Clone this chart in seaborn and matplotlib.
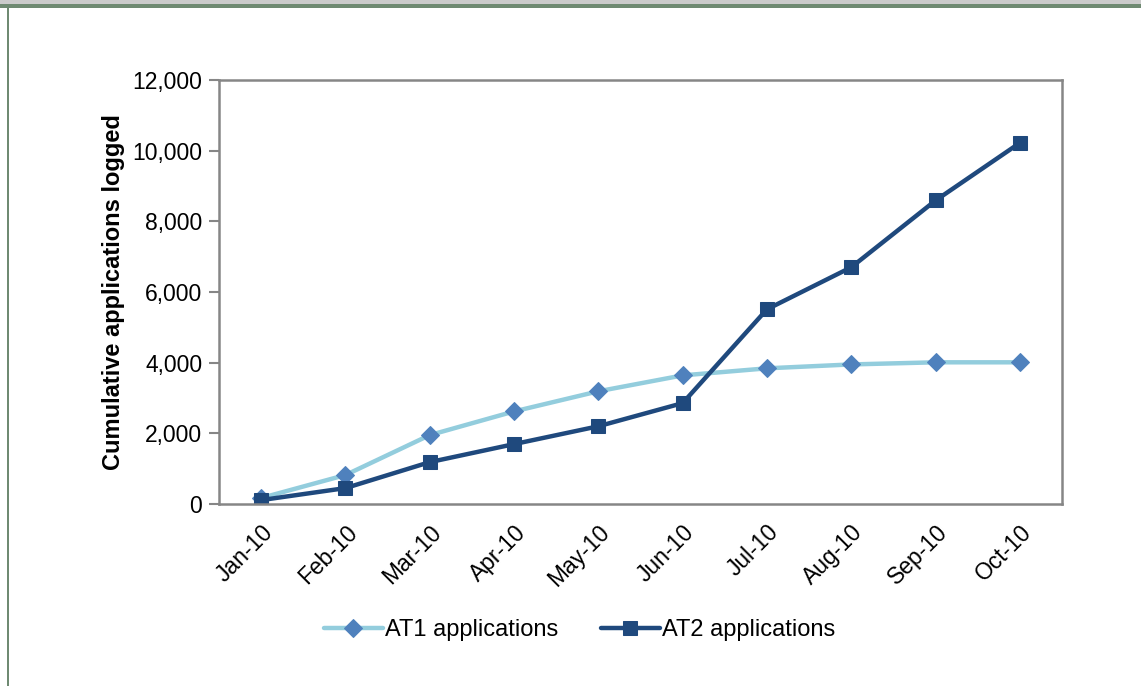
import pandas as pd
import matplotlib
matplotlib.use("Agg")
import matplotlib.pyplot as plt
import seaborn as sns
from matplotlib.patches import Rectangle
from matplotlib.ticker import FuncFormatter

# ---------------------------------------------------------------------------
# Data
# ---------------------------------------------------------------------------
months = ["Jan-10", "Feb-10", "Mar-10", "Apr-10", "May-10",
          "Jun-10", "Jul-10", "Aug-10", "Sep-10", "Oct-10"]
at1_values = [170, 820, 1950, 2620, 3190, 3640, 3840, 3950, 4010, 4010]
at2_values = [110, 450, 1185, 1695, 2200, 2855, 5510, 6700, 8590, 10220]
series_labels = ["AT1 applications", "AT2 applications"]

df = pd.DataFrame({
    "Month": months * 2,
    "Value": at1_values + at2_values,
    "Series": [series_labels[0]] * len(months) + [series_labels[1]] * len(months),
})

sns.set_theme(style="white")
plt.rcParams["font.family"] = ["Liberation Sans", "DejaVu Sans"]
plt.rcParams["text.color"] = "black"
plt.rcParams["xtick.color"] = "black"
plt.rcParams["ytick.color"] = "black"
plt.rcParams["axes.labelcolor"] = "black"

fig = plt.figure(figsize=(11.41, 6.86), dpi=100)
ax = fig.add_axes([219 / 1141, 1 - 504 / 686, 843 / 1141, 424 / 686])

styles = {
    series_labels[0]: dict(line="#93CDDD", marker="D", mfc="#4F81BD", ms=9),
    series_labels[1]: dict(line="#1F497D", marker="s", mfc="#1F497D", ms=10),
}
for name, st in styles.items():
    sub = df[df["Series"] == name]
    sns.lineplot(
        data=sub, x="Month", y="Value", ax=ax, label=name,
        color=st["line"], linewidth=3.2, marker=st["marker"],
        markersize=st["ms"], markerfacecolor=st["mfc"],
        markeredgecolor=st["mfc"], sort=False,
    )

# --- Axes styling (Excel look) ---
grey = "#868686"
ax.set_xlim(-0.5, len(months) - 0.5)
ax.set_ylim(0, 12000)
ax.set_yticks(range(0, 12001, 2000))
ax.yaxis.set_major_formatter(FuncFormatter(lambda v, _: f"{int(v):,}"))
ax.set_xticks(range(len(months)))
ax.set_xticklabels(months, rotation=45, ha="right", rotation_mode="anchor")
ax.set_xticks([i - 0.5 for i in range(len(months) + 1)], minor=True)
ax.tick_params(axis="x", which="major", length=0, pad=12, labelsize=16.5)
ax.tick_params(axis="x", which="minor", length=7, width=1.5, color=grey, direction="out")
ax.tick_params(axis="y", length=7, width=1.5, color=grey, labelsize=16.5, pad=5, left=True)
for spine in ax.spines.values():
    spine.set_color(grey)
    spine.set_linewidth(1.8)

ax.set_xlabel("")
ax.set_ylabel("Cumulative applications logged", fontsize=17, fontweight="bold")
ax.yaxis.set_label_coords(-0.111, 0.5)

ax.get_legend().remove()
handles, labels = ax.get_legend_handles_labels()
fig.legend(handles, labels, loc="center", bbox_to_anchor=(0.508, 1 - 630 / 686),
           ncol=2, frameon=False, fontsize=17, handlelength=2.5,
           handletextpad=0.1, columnspacing=1.8)

# --- Outer document frame ---
fig.patches.append(Rectangle((0, 1 - 4.5 / 686), 1, 4.5 / 686, transform=fig.transFigure,
                             facecolor="#CBCBCB", edgecolor="none"))
fig.patches.append(Rectangle((0, 1 - 7.5 / 686), 1, 3 / 686, transform=fig.transFigure,
                             facecolor="#6F8A72", edgecolor="none"))
fig.patches.append(Rectangle((7 / 1141, 0), 2 / 1141, 1 - 5 / 686, transform=fig.transFigure,
                             facecolor="#6F8A72", edgecolor="none"))

fig.savefig("out.png", dpi=100)
